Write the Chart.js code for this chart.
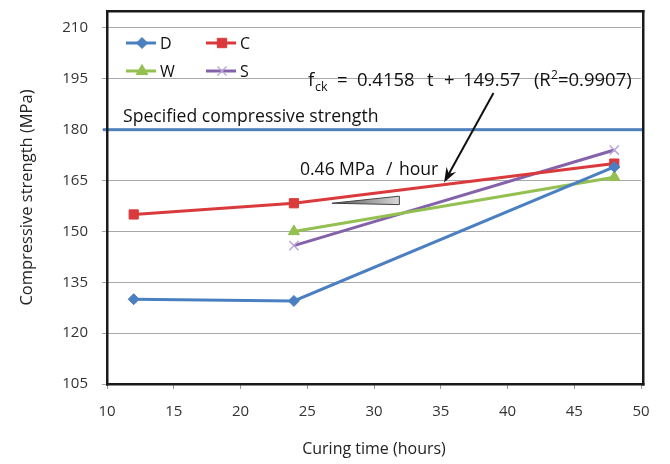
<!DOCTYPE html>
<html>
<head>
<meta charset="utf-8">
<script src="https://cdn.jsdelivr.net/npm/chart.js@4/dist/chart.umd.min.js"></script>
<style>
html,body{margin:0;padding:0;background:#fff;}
#wrap{width:670px;height:464px;position:relative;}
</style>
</head>
<body>
<div id="wrap"><canvas id="c" width="670" height="464"></canvas></div>
<script>
// ---- data ----
const hours = [12, 24, 48];
const seriesNames = ['D', 'C', 'W', 'S'];
const valuesD = [130, 129.5, 169];
const valuesC = [155, 158.3, 170];
const valuesW = [null, 150, 166];
const valuesS = [null, 145.8, 174];
const xTicks = [10, 15, 20, 25, 30, 35, 40, 45, 50];
const yTicks = [105, 120, 135, 150, 165, 180, 195, 210];
const yTop = 215;
const specifiedStrength = 180;
const specifiedLabel = 'Specified compressive strength';
const rateLabel = ['0.46', 'MPa', '/', 'hour'];
const fitLabel = ['f', 'ck', '=', '0.4158', 't', '+', '149.57', '(R', '2', '=0.9907)'];

const FONT = '"Open Sans", "Noto Sans", sans-serif';
const colors = { D: '#4a7fc1', C: '#da3a3c', W: '#94c052', S: '#8462aa' };

function pts(vals) {
  const out = [];
  hours.forEach((h, i) => { if (vals[i] !== null) out.push({ x: h, y: vals[i] }); });
  return out;
}

const styles = {
  D: { pointStyle: 'rectRot', pointRadius: 5.5 },
  C: { pointStyle: 'rect', pointRadius: 6.5 },
  W: { pointStyle: 'triangle', pointRadius: 6.5 },
  S: { pointStyle: 'crossRot', pointRadius: 6.5 }
};
const seriesVals = { D: valuesD, C: valuesC, W: valuesW, S: valuesS };

const datasets = seriesNames.map(n => ({
  label: n,
  data: pts(seriesVals[n]),
  showLine: true,
  borderColor: colors[n],
  backgroundColor: colors[n],
  borderWidth: 3,
  pointStyle: styles[n].pointStyle,
  pointRadius: styles[n].pointRadius,
  pointBorderColor: n === 'S' ? '#b9a6d6' : colors[n],
  pointBackgroundColor: colors[n],
  pointBorderWidth: n === 'S' ? 1.5 : 1,
  tension: 0,
  clip: false
}));

function drawMarker(ctx, style, r, x, y, fill) {
  ctx.save();
  ctx.fillStyle = fill; ctx.strokeStyle = fill; ctx.lineWidth = 1;
  ctx.beginPath();
  if (style === 'rectRot') {
    ctx.moveTo(x, y - r); ctx.lineTo(x + r, y); ctx.lineTo(x, y + r); ctx.lineTo(x - r, y); ctx.closePath();
    ctx.fill(); ctx.stroke();
  } else if (style === 'rect') {
    ctx.rect(x - r * 0.72, y - r * 0.72, r * 1.44, r * 1.44); ctx.fill(); ctx.stroke();
  } else if (style === 'triangle') {
    ctx.moveTo(x, y - r); ctx.lineTo(x + r * 0.9, y + r * 0.55); ctx.lineTo(x - r * 0.9, y + r * 0.55); ctx.closePath();
    ctx.fill(); ctx.stroke();
  } else {
    ctx.strokeStyle = '#b9a6d6'; ctx.lineWidth = 1.3;
    const d = r * 0.7;
    ctx.moveTo(x - d, y - d); ctx.lineTo(x + d, y + d); ctx.moveTo(x + d, y - d); ctx.lineTo(x - d, y + d);
    ctx.stroke();
  }
  ctx.restore();
}

// annotation anchors (axis units)
const eqAnchor = { x: 25.05, y: 192.9 };
const specAnchor = { x: 11.2, y: 182.2 };
const rateAnchor = { x: 24.45, y: 166.6 };
const arrowTail = { x: 38.95, y: 190.8 };
const arrowTip = { x: 35.25, y: 164.4 };
const wedge = [{ x: 26.85, y: 158.3 }, { x: 31.9, y: 160.4 }, { x: 31.9, y: 157.9 }];

function box(chart) {
  const { x, y } = chart.scales;
  return {
    left: x.getPixelForValue(xTicks[0]),
    right: x.getPixelForValue(xTicks[xTicks.length - 1]),
    top: y.getPixelForValue(yTop),
    bottom: y.getPixelForValue(yTicks[0])
  };
}

const overlay = {
  id: 'overlay',
  beforeDatasetsDraw(chart) {
    const ctx = chart.ctx, y = chart.scales.y;
    const a = box(chart);
    const ys = y.getPixelForValue(specifiedStrength);
    ctx.save();
    ctx.fillStyle = '#4f81bd';
    ctx.fillRect(a.left - 4, ys - 1.5, (a.right + 3) - (a.left - 4), 3);
    ctx.fillStyle = '#1a1a1a';
    const W = a.right + 2 - a.left, H = a.bottom - a.top;
    ctx.fillRect(a.left - 1, a.top - 1, W + 2.5, 2.5);
    ctx.fillRect(a.left - 1, a.bottom - 1, W + 2.5, 2.5);
    ctx.fillRect(a.left - 1, a.top - 1, 2.5, H + 2.5);
    ctx.fillRect(a.right + 1, a.top - 1, 2.5, H + 2.5);
    ctx.restore();
  },
  afterDatasetsDraw(chart) {
    const ctx = chart.ctx, x = chart.scales.x, y = chart.scales.y;
    const a = box(chart);
    const px = v => x.getPixelForValue(v), py = v => y.getPixelForValue(v);
    ctx.save();
    ctx.fillStyle = '#111';
    ctx.textBaseline = 'alphabetic';
    ctx.font = '17.6px ' + FONT;
    ctx.fillText(specifiedLabel, px(specAnchor.x), py(specAnchor.y));
    const rx = px(rateAnchor.x), ry = py(rateAnchor.y);
    const rOff = [0, 39, 86, 99];
    rateLabel.forEach((t, i) => ctx.fillText(t, rx + rOff[i], ry));
    const ex = px(eqAnchor.x), ey = py(eqAnchor.y);
    const eOff = [0, 7, 29, 49, 119, 136, 155, 226, 243, 250];
    fitLabel.forEach((t, i) => {
      let dy = 0;
      if (i === 1) { ctx.font = '12.5px ' + FONT; dy = 5; }
      else if (i === 8) { ctx.font = '12px ' + FONT; dy = -7; }
      else ctx.font = '18.5px ' + FONT;
      ctx.fillText(t, ex + eOff[i], ey + dy);
    });
    const tx = px(arrowTail.x), ty = py(arrowTail.y), hx = px(arrowTip.x), hy = py(arrowTip.y);
    const ang = Math.atan2(hy - ty, hx - tx), c = Math.cos(ang), s = Math.sin(ang);
    ctx.strokeStyle = '#111'; ctx.lineWidth = 2;
    ctx.beginPath(); ctx.moveTo(tx, ty); ctx.lineTo(hx - 8 * c, hy - 8 * s); ctx.stroke();
    ctx.beginPath();
    ctx.moveTo(hx, hy);
    ctx.lineTo(hx - 15 * c + 5.5 * s, hy - 15 * s - 5.5 * c);
    ctx.lineTo(hx - 10 * c, hy - 10 * s);
    ctx.lineTo(hx - 15 * c - 5.5 * s, hy - 15 * s + 5.5 * c);
    ctx.closePath(); ctx.fillStyle = '#111'; ctx.fill();
    const w = wedge.map(p => ({ x: px(p.x), y: py(p.y) }));
    const g = ctx.createLinearGradient(w[0].x, 0, w[1].x, 0);
    g.addColorStop(0, '#555'); g.addColorStop(1, '#d8d8d8');
    ctx.beginPath(); ctx.moveTo(w[0].x, w[0].y); ctx.lineTo(w[1].x, w[1].y); ctx.lineTo(w[2].x, w[2].y); ctx.closePath();
    ctx.fillStyle = g; ctx.fill();
    ctx.strokeStyle = '#444'; ctx.lineWidth = 1; ctx.stroke();
    ctx.font = '16px ' + FONT; ctx.textBaseline = 'middle';
    const leg = [
      { n: 'D', x0: a.left + 19, y0: a.top + 32 },
      { n: 'C', x0: a.left + 99, y0: a.top + 32 },
      { n: 'W', x0: a.left + 19, y0: a.top + 60 },
      { n: 'S', x0: a.left + 99, y0: a.top + 60 }
    ];
    leg.forEach(l => {
      ctx.strokeStyle = colors[l.n]; ctx.lineWidth = 3;
      ctx.beginPath(); ctx.moveTo(l.x0, l.y0); ctx.lineTo(l.x0 + 30, l.y0); ctx.stroke();
      drawMarker(ctx, styles[l.n].pointStyle, styles[l.n].pointRadius, l.x0 + 16, l.y0, colors[l.n]);
      ctx.fillStyle = '#111';
      ctx.fillText(l.n, l.x0 + 34, l.y0 + 1);
    });
    ctx.restore();
  }
};

new Chart(document.getElementById('c'), {
  type: 'scatter',
  data: { datasets },
  plugins: [overlay],
  options: {
    responsive: false,
    animation: false,
    layout: { padding: { top: 11, right: 29, left: 0, bottom: 0 } },
    plugins: { legend: { display: false }, tooltip: { enabled: false } },
    scales: {
      x: {
        type: 'linear', min: 10, max: 50,
        afterBuildTicks: s => { s.ticks = xTicks.map(v => ({ value: v })); },
        afterFit: s => { s.height = 80; s.paddingLeft = 0; s.paddingRight = 0; },
        ticks: { font: { family: FONT, size: 15 }, color: '#333', padding: 14 },
        grid: { drawOnChartArea: false, drawTicks: true, tickLength: 5, color: '#999' },
        border: { display: false },
        title: { display: true, text: 'Curing time (hours)', font: { family: FONT, size: 16 }, color: '#222', padding: { top: 0, bottom: 5 } }
      },
      y: {
        min: 105, max: yTop,
        afterBuildTicks: s => { s.ticks = yTicks.map(v => ({ value: v })); },
        afterFit: s => { s.width = 107; s.paddingTop = 0; s.paddingBottom = 0; },
        ticks: { font: { family: FONT, size: 15 }, color: '#333', padding: 14 },
        grid: { color: '#a8a8a8', lineWidth: 1, tickLength: 5 },
        border: { display: false },
        title: { display: true, text: 'Compressive strength (MPa)', font: { family: FONT, size: 16.5 }, color: '#222', padding: { top: 17, bottom: 0 } }
      }
    }
  }
});
</script>
</body>
</html>
